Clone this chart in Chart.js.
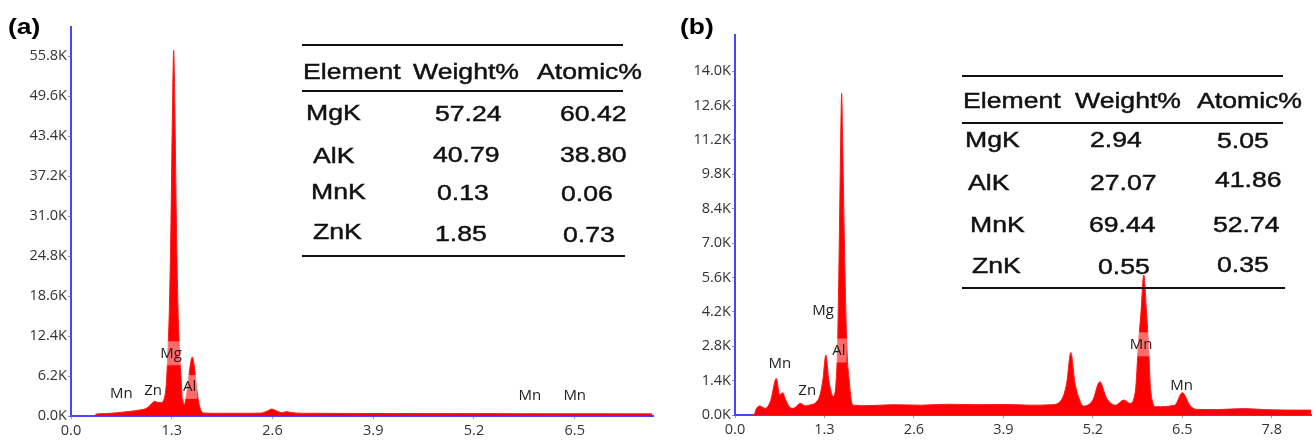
<!DOCTYPE html>
<html><head><meta charset="utf-8">
<script src="https://cdn.jsdelivr.net/npm/chart.js@4.4.1/dist/chart.umd.min.js"></script>
<style>
html,body{margin:0;padding:0;background:#fff;}
#wrap{position:relative;width:1316px;height:440px;overflow:hidden;background:#fff;}
canvas{position:absolute;top:0;}
.t{position:absolute;font-family:"Liberation Sans",Arial,sans-serif;font-size:22px;line-height:22px;color:#111;white-space:nowrap;transform:scaleX(1.21);transform-origin:0 50%;-webkit-text-stroke:0.45px #111;}
.rule{position:absolute;height:2px;background:#111;}
.pl{position:absolute;font-family:"Liberation Sans",Arial,sans-serif;font-weight:bold;font-size:22px;line-height:22px;color:#000;transform:scaleX(1.2);transform-origin:0 50%;}
</style></head><body>
<div id="wrap">
<canvas id="ca" width="660" height="440" style="left:0"></canvas>
<canvas id="cb" width="656" height="440" style="left:660px"></canvas>
</div>
<script>
// ---------- Panel (a) spectrum ----------
const energyA = [0.30,0.33,0.45,0.60,0.75,0.90,0.98,1.04,1.08,1.12,1.16,1.20,1.23,1.25,1.27,1.29,1.31,1.325,1.34,1.36,1.38,1.40,1.42,1.44,1.46,1.48,1.51,1.54,1.565,1.59,1.62,1.65,1.68,1.72,1.90,2.20,2.45,2.54,2.59,2.65,2.72,2.78,2.85,3.00,3.50,4.20,5.00,5.80,6.60,7.50];
const countsA = [0,300,380,520,700,950,1240,1900,2300,2100,2100,2600,5000,10000,17000,30000,48000,56700,48000,30000,17000,10500,6000,2800,1700,2500,5000,8000,9150,7800,4500,2000,800,450,420,420,450,800,1080,800,520,670,520,420,400,380,370,360,350,330];
const xTickValuesA = [0,1.3,2.6,3.9,5.2,6.5];
const xTickLabelsA = ['0.0','1.3','2.6','3.9','5.2','6.5'];
const yTickValuesA = [0,6200,12400,18600,24800,31000,37200,43400,49600,55800];
const yTickLabelsA = ['0.0K','6.2K','12.4K','18.6K','24.8K','31.0K','37.2K','43.4K','49.6K','55.8K'];
const peakTextA = ['Mn','Zn','Mg','Al','Mn','Mn'];
const peakEnergyA = [0.65,1.06,1.29,1.53,5.92,6.50];
const peakCountA = [3460,3875,9720,4500,3130,3130];
const peakBoxA = [false,false,true,true,false,false];
const tableElementsA = ['MgK','AlK','MnK','ZnK'];
const tableWeightA = ['57.24','40.79','0.13','1.85'];
const tableAtomicA = ['60.42','38.80','0.06','0.73'];

// ---------- Panel (b) spectrum ----------
const energyB = [0.28,0.31,0.36,0.44,0.52,0.60,0.65,0.69,0.74,0.79,0.85,0.95,1.02,1.10,1.16,1.235,1.28,1.32,1.36,1.39,1.43,1.47,1.49,1.515,1.535,1.55,1.565,1.59,1.625,1.66,1.69,1.72,1.90,2.30,2.70,3.10,3.50,3.90,4.30,4.60,4.74,4.82,4.88,4.94,5.01,5.06,5.20,5.30,5.40,5.53,5.65,5.74,5.82,5.86,5.90,5.94,5.98,6.01,6.04,6.12,6.39,6.50,6.61,6.70,7.00,7.38,7.70,8.00,8.37];
const countsB = [0,250,366,270,600,1490,815,910,600,340,270,475,366,420,475,815,1500,2440,1500,1020,745,1400,2800,7000,11000,13100,11000,7000,2800,1400,600,400,380,420,400,440,420,430,400,420,600,1300,2540,1300,600,366,610,1355,680,400,610,475,1020,2800,4200,5700,4200,2800,1020,340,400,910,400,230,220,260,220,200,200];
const xTickValuesB = [0,1.3,2.6,3.9,5.2,6.5,7.8];
const xTickLabelsB = ['0.0','1.3','2.6','3.9','5.2','6.5','7.8'];
const yTickValuesB = [0,1400,2800,4200,5600,7000,8400,9800,11200,12600,14000];
const yTickLabelsB = ['0.0K','1.4K','2.8K','4.2K','5.6K','7.0K','8.4K','9.8K','11.2K','12.6K','14.0K'];
const peakTextB = ['Mn','Zn','Mg','Al','Mn','Mn'];
const peakEnergyB = [0.65,1.05,1.28,1.51,5.90,6.49];
const peakCountB = [2068,1005,4241,2625,2877,1200];
const peakBoxB = [false,false,false,true,true,false];
const tableElementsB = ['MgK','AlK','MnK','ZnK'];
const tableWeightB = ['2.94','27.07','69.44','0.55'];
const tableAtomicB = ['5.05','41.86','52.74','0.35'];

const tableHeader = ['Element','Weight%','Atomic%'];

Chart.defaults.font.family = '"Open Sans", sans-serif';

const peakLabels = {
  id: 'peakLabels',
  afterDatasetsDraw(chart, args, opts) {
    const {ctx} = chart; const xs = chart.scales.x, ys = chart.scales.y;
    ctx.save();
    ctx.font = '15px "Open Sans", sans-serif';
    ctx.textAlign = 'center'; ctx.textBaseline = 'middle';
    opts.text.forEach((t, i) => {
      const px = xs.getPixelForValue(opts.energy[i]);
      const py = ys.getPixelForValue(opts.count[i]);
      const w = ctx.measureText(t).width;
      if (opts.box[i]) { ctx.fillStyle = 'rgba(255,255,255,0.42)'; ctx.fillRect(px - w/2 - 1, py - 12, w + 2, 24); }
      ctx.fillStyle = '#222';
      ctx.fillText(t, px, py);
    });
    ctx.restore();
  }
};

function makeChart(id, en, ct, xMax, yMax, xv, xl, yv, yl, yWidth, xHeight, padTop, padRight, lab) {
  return new Chart(document.getElementById(id), {
    type: 'line',
    data: { datasets: [{
      data: en.map((e, i) => ({x: e, y: ct[i]})),
      borderColor: '#ff1a1a', borderWidth: 1, backgroundColor: '#ff0000',
      fill: 'origin', pointRadius: 0, cubicInterpolationMode: 'monotone'
    }]},
    options: {
      responsive: false, animation: false,
      layout: { padding: { top: padTop, right: padRight, left: 0, bottom: 0 } },
      plugins: { legend: {display: false}, tooltip: {enabled: false}, peakLabels: lab },
      scales: {
        x: { type: 'linear', min: 0, max: xMax,
          afterBuildTicks: s => { s.ticks = xv.map(v => ({value: v})); },
          afterFit: s => { s.height = xHeight; },
          ticks: { autoSkip: false, maxRotation: 0, padding: 3, color: '#333', font: {size: 14.5},
                   callback: (v, i) => xl[i] },
          grid: { drawOnChartArea: false, drawTicks: true, tickLength: 3, color: '#999' },
          border: { color: '#4646ff', width: 2 } },
        y: { type: 'linear', min: 0, max: yMax,
          afterBuildTicks: s => { s.ticks = yv.map(v => ({value: v})); },
          afterFit: s => { s.width = yWidth; },
          ticks: { autoSkip: false, padding: 1, color: '#333', font: {size: 14.5},
                   callback: (v, i) => yl[i] },
          grid: { drawOnChartArea: false, drawTicks: true, tickLength: 3, color: '#999' },
          border: { color: '#4646ff', width: 2 } }
      }
    },
    plugins: [peakLabels]
  });
}

makeChart('ca', energyA, countsA, 7.51, 60300, xTickValuesA, xTickLabelsA, yTickValuesA, yTickLabelsA, 71, 24, 27, 7,
  {text: peakTextA, energy: peakEnergyA, count: peakCountA, box: peakBoxA});
makeChart('cb', energyB, countsB, 8.37, 15470, xTickValuesB, xTickLabelsB, yTickValuesB, yTickLabelsB, 75, 25, 35, 5,
  {text: peakTextB, energy: peakEnergyB, count: peakCountB, box: peakBoxB});

// ---------- Tables & panel labels (HTML overlays) ----------
const wrap = document.getElementById('wrap');
function addText(cls, txt, left, cy) {
  const d = document.createElement('div'); d.className = cls; d.textContent = txt;
  d.style.left = left + 'px'; d.style.top = (cy - 10.7) + 'px'; wrap.appendChild(d);
}
function addRule(x1, x2, y) {
  const d = document.createElement('div'); d.className = 'rule';
  d.style.left = x1 + 'px'; d.style.width = (x2 - x1) + 'px'; d.style.top = (y - 1) + 'px'; wrap.appendChild(d);
}
function addTable(L, els, wts, ats) {
  addRule(L.x1, L.x2, L.rules[0]); addRule(L.x1, L.x2, L.rules[1]); addRule(L.x1, L.x2 + 2, L.rules[2]);
  tableHeader.forEach((h, i) => addText('t', h, L.headX[i], L.headY));
  els.forEach((t, i) => addText('t', t, L.elX[i], L.rowY[0][i]));
  wts.forEach((t, i) => addText('t', t, L.wX[i], L.rowY[1][i]));
  ats.forEach((t, i) => addText('t', t, L.aX[i], L.rowY[2][i]));
}
addTable({x1: 302, x2: 623, rules: [45, 91, 256], headX: [303, 413, 537], headY: 72,
  elX: [306, 313, 311, 313], wX: [435, 433, 437, 435], aX: [560, 560, 561, 563],
  rowY: [[113, 156, 192, 232], [114, 154.5, 193, 234], [114, 154.5, 194, 235]]},
  tableElementsA, tableWeightA, tableAtomicA);
addTable({x1: 962, x2: 1283, rules: [76, 123, 288], headX: [963, 1075, 1197], headY: 101,
  elX: [965, 968, 970, 972], wX: [1090, 1090, 1089, 1098], aX: [1217, 1215, 1213, 1217],
  rowY: [[140, 183, 225, 266], [140, 183, 225, 267], [141, 180, 225, 265]]},
  tableElementsB, tableWeightB, tableAtomicB);
addText('pl', '(a)', 8, 26.5);
addText('pl', '(b)', 680, 26.5);
</script>
</body></html>
